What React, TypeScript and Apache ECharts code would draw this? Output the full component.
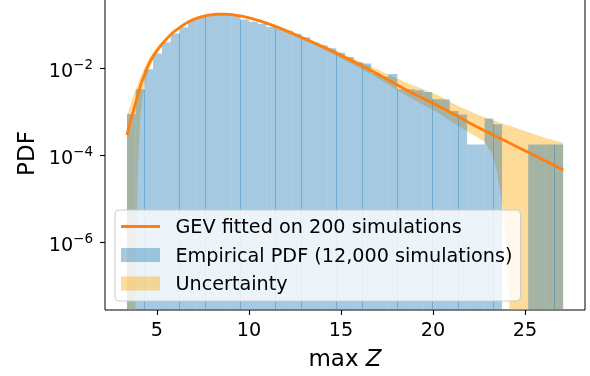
import React, { useEffect, useRef } from "react";
import * as echarts from "echarts";

// ---------- data ----------
// histogram: 50 equal bins between these edges, density per bin
const binEdgeMin = 3.37;
const binEdgeMax = 27.07;
const binDensity = [
  0.000891, 0.00331, 0.00955, 0.0219, 0.0398, 0.0631, 0.0871, 0.129, 0.151, 0.166,
  0.174, 0.17, 0.158, 0.132, 0.117, 0.105, 0.0891, 0.0832, 0.0724, 0.0617,
  0.0513, 0.0389, 0.0339, 0.0288, 0.0229, 0.0182, 0.0138, 0.0129, 0.00759, 0.00646,
  0.00741, 0.00331, 0.00331, 0.00316, 0.00288, 0.00195, 0.00195, 0.00105, 0.000871, 0.000178,
  0.000178, 0.000708, 0.000525, 0, 0, 0, 0.000178, 0.000178, 0.000178, 0.000178,
];

// fitted GEV curve
const curveX = [
  3.37, 3.55, 3.73, 4.09, 4.3, 4.54, 4.8, 5.09, 5.45, 5.81, 6.25, 6.72, 7.25, 7.8, 8.25, 8.71,
  9.6, 10.5, 11.5, 12.78, 13.7, 14.59, 15.7, 16.76, 17.67, 18.58, 19.48, 20.38, 21.3, 22.19,
  23.1, 24.0, 25.0, 26.0, 27.08,
];
const gevPdf = [
  2.95e-4, 6.03e-4, 1.1e-3, 3.8e-3, 6.76e-3, 0.012, 0.0191, 0.0288, 0.0437, 0.0631, 0.0871,
  0.117, 0.145, 0.166, 0.174, 0.176, 0.158, 0.126, 0.0891, 0.0531, 0.0355, 0.024, 0.0141,
  0.00832, 0.00513, 0.00316, 0.00204, 0.00132, 8.13e-4, 5.01e-4, 3.24e-4, 2.09e-4, 1.29e-4,
  7.94e-5, 4.68e-5,
];

// uncertainty band
const bandX = [
  3.37, 3.55, 3.73, 3.84, 3.88, 3.95, 4.09, 4.3, 4.54, 4.8, 5.09, 5.45, 5.81, 6.25, 6.72, 7.25,
  7.8, 8.25, 8.71, 9.6, 10.5, 11.5, 12.78, 13.7, 14.59, 15.7, 16.76, 17.67, 18.58, 19.48,
  20.38, 20.93, 21.4, 21.83, 22.3, 22.79, 23.2, 23.46, 23.72, 23.88, 23.99, 24.07, 24.12,
  24.16, 25.0, 26.0, 27.08,
];
const bandUpper = [
  7.94e-4, 1.41e-3, 2.4e-3, 3.16e-3, 3.55e-3, 4.27e-3, 6.03e-3, 0.01, 0.0162, 0.0234, 0.0339,
  0.049, 0.0692, 0.0933, 0.124, 0.151, 0.174, 0.184, 0.186, 0.168, 0.135, 0.0955, 0.0575,
  0.0398, 0.0275, 0.0166, 0.0105, 0.00692, 0.00468, 0.00331, 0.00229, 0.0017, 0.00135,
  0.00112, 9.12e-4, 7.59e-4, 6.61e-4, 6.03e-4, 5.5e-4, 5.25e-4, 5.01e-4, 4.9e-4, 4.84e-4,
  4.79e-4, 3.63e-4, 2.63e-4, 1.95e-4,
];
const bandLower = [
  0, 0, 0, 0, 3.16e-7, 3.16e-5, 7.94e-4, 3.55e-3, 9.12e-3, 0.0158, 0.0251, 0.0398, 0.0589,
  0.0813, 0.111, 0.136, 0.157, 0.166, 0.166, 0.15, 0.117, 0.0822, 0.0484, 0.0324, 0.0209,
  0.0117, 0.00676, 0.00398, 0.00234, 0.00145, 8.91e-4, 6.31e-4, 4.68e-4, 3.63e-4, 2.75e-4,
  2.09e-4, 1.12e-4, 4.47e-5, 1.0e-5, 2.51e-6, 7.94e-7, 2.51e-7, 6.31e-8, 0, 0, 0, 0,
];

const xTicks = [5, 10, 15, 20, 25];
const yTickExponents = [-6, -4, -2];
const legendNames = [
  "GEV fitted on 200 simulations",
  "Empirical PDF (12,000 simulations)",
  "Uncertainty",
];

// ---------- styling ----------
const FONT = "DejaVu Sans";
const BLUE = "rgba(31,119,180,0.4)";
const ORANGE_BAND = "rgba(255,165,0,0.4)";
const LINE = "#ff7f0e";
const X_MIN = 2.176;
const X_MAX = 28.26;
const LOG_MIN = -7.543;
const LOG_MAX = -0.364;
const TXT = 19.2;

const lg = (v: number) => (v > 0 ? Math.max(Math.log10(v), LOG_MIN) : LOG_MIN);

export default function App() {
  const ref = useRef<HTMLDivElement>(null);
  useEffect(() => {
    const chart = echarts.init(ref.current!, null, { renderer: "svg" });
    const nBins = binDensity.length;
    const w = (binEdgeMax - binEdgeMin) / nBins;
    const histData = binDensity.map((d, i) => [
      binEdgeMin + i * w,
      binEdgeMin + (i + 1) * w,
      lg(d),
      i,
    ]);
    const bandData = bandX.map((x, i) => [x, lg(bandUpper[i]), lg(bandLower[i])]);
    const lineData = curveX.map((x, i) => [x, Math.log10(gevPdf[i])]);

    const option: any = {
      animation: false,
      grid: {
        left: 105,
        right: 5,
        top: -3,
        bottom: 66,
        show: true,
        borderColor: "#000",
        borderWidth: 1,
        backgroundColor: "transparent",
        outerBoundsMode: "none",
      },
      xAxis: {
        type: "value",
        min: X_MIN,
        max: X_MAX,
        name: "{n|max }{i|Z}",
        nameLocation: "middle",
        nameGap: 36,
        nameTextStyle: {
          rich: {
            n: { fontSize: 23, fontFamily: FONT, color: "#000" },
            i: { fontSize: 23, fontFamily: FONT, color: "#000", fontStyle: "italic" },
          },
        },
        axisLine: { show: false },
        splitLine: { show: false },
        axisTick: {
          show: true,
          customValues: xTicks,
          length: 5,
          lineStyle: { color: "#000", width: 1.1 },
        },
        axisLabel: {
          customValues: xTicks,
          margin: 10,
          fontSize: TXT,
          fontFamily: FONT,
          color: "#000",
        },
      },
      yAxis: {
        type: "value",
        min: LOG_MIN,
        max: LOG_MAX,
        name: "PDF",
        nameLocation: "middle",
        nameGap: 65,
        nameTextStyle: { fontSize: 23, fontFamily: FONT, color: "#000" },
        axisLine: { show: false },
        splitLine: { show: false },
        axisTick: {
          show: true,
          customValues: yTickExponents,
          length: 5,
          lineStyle: { color: "#000", width: 1.1 },
        },
        axisLabel: {
          customValues: yTickExponents,
          margin: 12,
          formatter: (v: number) => `{b|10}{s|\u2212${Math.abs(v)}}`,
          rich: {
            b: {
              fontSize: TXT,
              fontFamily: FONT,
              color: "#000",
              lineHeight: 23,
              verticalAlign: "bottom",
            },
            s: {
              fontSize: 13.5,
              fontFamily: FONT,
              color: "#000",
              lineHeight: 13,
              verticalAlign: "top",
            },
          },
        },
      },
      legend: {
        orient: "vertical",
        left: 115,
        top: 210,
        data: [
          { name: legendNames[0], icon: "path://M0,0H40V2.9H0Z" },
          { name: legendNames[1], icon: "rect" },
          { name: legendNames[2], icon: "rect" },
        ],
        itemWidth: 39,
        itemHeight: 14,
        itemGap: 9.5,
        padding: [7, 8, 8, 6],
        backgroundColor: "rgba(255,255,255,0.8)",
        borderColor: "#cccccc",
        borderWidth: 1,
        borderRadius: 4,
        selectedMode: false,
        formatter: (name: string) => `{t|${name}}`,
        textStyle: {
          rich: {
            t: {
              fontSize: TXT,
              fontFamily: FONT,
              color: "#000",
              lineHeight: 19,
              padding: [0, 0, 0, 10.5],
            },
          },
        },
      },
      series: [
        {
          name: legendNames[2],
          type: "custom",
          itemStyle: { color: ORANGE_BAND },
          encode: { x: 0, y: [1, 2] },
          data: bandData,
          z: 1,
          renderItem: (params: any, api: any) => {
            if (params.dataIndex !== 0) return null;
            const upper = bandData.map((p) => api.coord([p[0], p[1]]));
            const lower = bandData.map((p) => api.coord([p[0], p[2]])).reverse();
            return {
              type: "polygon",
              shape: { points: upper.concat(lower) },
              style: { fill: ORANGE_BAND },
            };
          },
        },
        {
          name: legendNames[1],
          type: "custom",
          itemStyle: { color: BLUE },
          encode: { x: [0, 1], y: 2 },
          data: histData,
          z: 2,
          renderItem: (params: any, api: any) => {
            const i = api.value(3);
            const d = binDensity[i];
            if (!(d > 0)) return null;
            const tl = api.coord([api.value(0), api.value(2)]);
            const br = api.coord([api.value(1), LOG_MIN]);
            const children: any[] = [
              {
                type: "rect",
                shape: { x: tl[0], y: tl[1], width: br[0] - tl[0], height: br[1] - tl[1] },
                style: { fill: BLUE },
              },
            ];
            const prev = i > 0 ? binDensity[i - 1] : 0;
            if (prev > 0) {
              const frac = tl[0] - Math.floor(tl[0]);
              if (frac >= 0.22 && frac < 0.5) {
                const prevTop = api.coord([api.value(0), lg(prev)])[1];
                const top = Math.max(prevTop, tl[1]);
                children.push({
                  type: "rect",
                  shape: { x: Math.floor(tl[0]), y: top, width: 1, height: br[1] - top },
                  style: { fill: BLUE },
                });
              }
            }
            return { type: "group", children };
          },
        },
        {
          name: legendNames[0],
          type: "line",
          data: lineData,
          symbol: "none",
          smooth: 0.35,
          z: 3,
          itemStyle: { color: LINE },
          lineStyle: { color: LINE, width: 2.8 },
        },
      ],
    };
    chart.setOption(option);
    return () => chart.dispose();
  }, []);
  return (
    <div
      ref={ref}
      style={{ position: "fixed", left: 0, top: 0, width: 590, height: 376 }}
    />
  );
}
